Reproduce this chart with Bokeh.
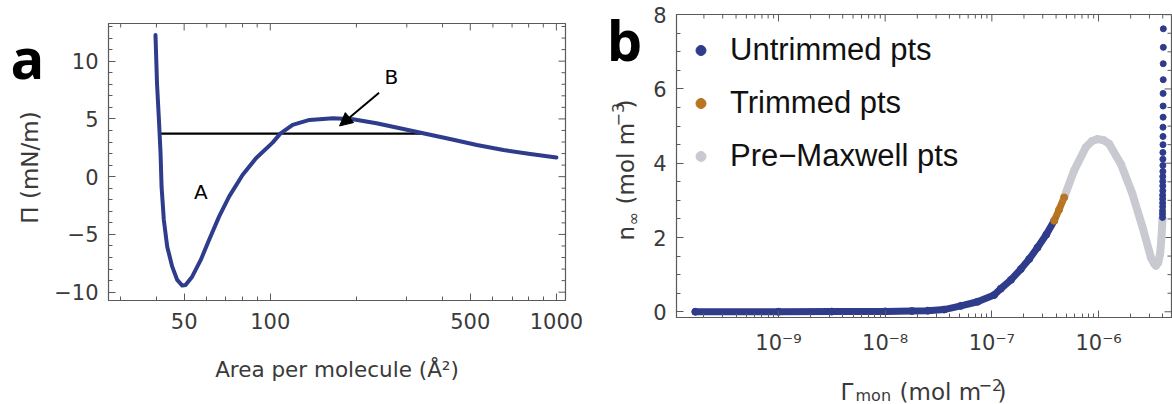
import math
from bokeh.plotting import figure
from bokeh.layouts import row, column
from bokeh.core.properties import value
from bokeh.models import (FixedTicker, Label, Arrow, NormalHead, Legend, LegendItem, Range1d,
                          CustomJSTickFormatter)
from bokeh.embed import file_html
from bokeh.resources import INLINE

# ---------------- Panel a data (surface pressure isotherm) ----------------
area = [39.7, 40.2, 40.8, 41.35, 41.69, 42.46, 43.63, 45.42, 47.29, 49.24, 50.58, 53.33,
        57.15, 61.09, 66.22, 71.78, 79.98, 89.13, 101.9, 108.4, 119.7, 137.1, 165.6, 194.5,
        235, 283.8, 342, 424.6, 527.2, 653.1, 810.8, 1000]
pressure = [12.27, 8.0, 5.0, 2.03, -0.87, -3.75, -6.06, -7.79, -8.94, -9.43, -9.38, -8.66,
            -7.21, -5.48, -3.46, -1.73, 0.15, 1.59, 2.95, 3.73, 4.48, 4.91, 5.05, 4.97,
            4.62, 4.19, 3.76, 3.26, 2.74, 2.31, 1.97, 1.66]
maxwell_area = [41.0, 347]
maxwell_pi = [3.73, 3.73]
a_xticks = [50, 100, 500, 1000]
a_xminor = [30, 40, 60, 70, 80, 90, 200, 300, 400, 600, 700, 800, 900]
a_yticks = [-10, -5, 0, 5, 10]
a_yminor = [-9, -8, -7, -6, -4, -3, -2, -1, 1, 2, 3, 4, 6, 7, 8, 9, 11, 12, 13]

# ---------------- Panel b data ----------------
untrimmed_g = [1.66e-10, 1.0e-9, 3.16e-9, 1.0e-8, 1.78e-8, 2.51e-8, 3.57e-8, 5.13e-8, 7.34e-8,
               1.05e-7, 1.21e-7, 1.51e-7, 1.87e-7, 2.24e-7, 2.68e-7, 3.24e-7, 3.84e-7]
untrimmed_n = [0.0, 0.0, 0.005, 0.01, 0.02, 0.03, 0.06, 0.16, 0.27,
               0.45, 0.62, 0.86, 1.15, 1.42, 1.73, 2.08, 2.45]
trimmed_g = [3.84e-7, 4.27e-7, 4.76e-7]
trimmed_n = [2.45, 2.75, 3.08]
premax_g = [4.76e-7, 5.90e-7, 7.60e-7, 8.71e-7, 9.79e-7, 1.12e-6, 1.26e-6, 1.62e-6, 2.08e-6,
            2.59e-6, 3.10e-6, 3.31e-6, 3.45e-6, 3.63e-6, 3.78e-6, 3.89e-6, 3.98e-6]
premax_n = [3.08, 3.80, 4.43, 4.60, 4.65, 4.62, 4.52, 3.98, 3.17,
            2.27, 1.46, 1.30, 1.24, 1.32, 1.56, 2.0, 2.5]
column_g = [4.05e-6, 4.05e-6, 4.04e-6, 4.04e-6, 4.03e-6, 4.03e-6, 4.03e-6, 4.02e-6, 4.02e-6,
            4.02e-6, 4.01e-6, 4.01e-6, 4.01e-6, 4.01e-6, 4.0e-6, 4.0e-6, 4.0e-6, 4.0e-6,
            3.99e-6, 3.99e-6, 3.99e-6, 3.99e-6, 3.98e-6, 3.98e-6, 3.98e-6]
column_n = [7.62, 7.12, 6.68, 6.25, 5.88, 5.54, 5.24, 4.97, 4.72, 4.50, 4.29, 4.11, 3.94,
            3.78, 3.64, 3.51, 3.39, 3.26, 3.14, 3.04, 2.93, 2.83, 2.72, 2.63, 2.54]
b_xticks = [1e-9, 1e-8, 1e-7, 1e-6]
b_xlabels = ["10\u207b\u2079", "10\u207b\u2078", "10\u207b\u2077", "10\u207b\u2076"]
b_xminor = [m * 10.0 ** e for e in range(-10, -5) for m in range(2, 10)]
b_yticks = [0, 2, 4, 6, 8]
b_yminor = [0.5, 1, 1.5, 2.5, 3, 3.5, 4.5, 5, 5.5, 6.5, 7, 7.5]

# texts placed in narrow strips around the panels
panel_a_letter = "a"
panel_b_letter = "b"
a_ylabel = "\u03a0 (mN/m)"
b_ylabel_parts = ["n", "\u221e", "(mol m", "\u22123", ")"]
b_xlabel_parts = ["\u0393", "mon", "(mol m", "\u22122", ")"]

BLUE = "#2f3c8c"
ORANGE = "#b87420"
GREY = "#c9cad1"
FRAME = "#5a5a5a"
TXT = "#3a3a3a"
FONT = "Open Sans"
AXFONT = "DejaVu Sans"
H = 404


def style_axis(ax):
    ax.axis_line_color = FRAME
    ax.major_tick_line_color = FRAME
    ax.minor_tick_line_color = FRAME
    ax.major_tick_in = 7
    ax.major_tick_out = 0
    ax.minor_tick_in = 4
    ax.minor_tick_out = 0
    ax.major_label_text_font = AXFONT
    ax.major_label_text_color = TXT
    ax.major_label_text_font_size = "21px"
    ax.axis_label_text_font = AXFONT
    ax.axis_label_text_color = TXT
    ax.axis_label_text_font_style = "normal"
    ax.axis_label_text_font_size = "21.5px"


def edge_ticks(p, xs, y, vertical, size):
    # tick marks on the top / right frame edges (half of the dash is clipped by the frame)
    if vertical:
        p.scatter(xs, [y] * len(xs), marker="dash", angle=math.pi / 2, size=size,
                  line_color=FRAME, line_width=1)
    else:
        p.scatter([y] * len(xs), xs, marker="dash", angle=0, size=size,
                  line_color=FRAME, line_width=1)


def strip(x0, x1, y0, y1):
    # a plain drawing area whose coordinates are page pixels (y grows downwards)
    s = figure(width=x1 - x0, height=y1 - y0, x_range=Range1d(x0, x1), y_range=Range1d(y1, y0),
               output_backend="svg", toolbar_location=None,
               x_axis_location=None, y_axis_location=None,
               min_border=0, min_border_left=0, min_border_right=0,
               min_border_top=0, min_border_bottom=0)
    s.xgrid.visible = False
    s.ygrid.visible = False
    s.outline_line_color = None
    s.frame_align = False
    return s


# ================= strip left of panel a =================
sa = strip(0, 50, 0, H)
sa.text(x=[27], y=[56.3], text=[panel_a_letter], text_align="center", text_baseline="middle",
        text_font=value(FONT), text_font_size=value("56px"), text_font_style="bold",
        text_color="black")
sa.text(x=[29], y=[167], text=[a_ylabel], angle=math.pi / 2, text_align="center",
        text_baseline="middle", text_font=value(AXFONT), text_font_size=value("23px"),
        text_color=TXT)

# ================= Panel a =================
XA0, XA1, YA0, YA1 = 27.2, 1076, -10.72, 13.26
p1 = figure(width=540, height=H, x_axis_type="log",
            x_range=Range1d(XA0, XA1), y_range=Range1d(YA0, YA1),
            output_backend="svg", toolbar_location=None,
            min_border_left=58, min_border_right=25, min_border_top=23, min_border_bottom=104)
p1.frame_align = False
p1.xgrid.visible = False
p1.ygrid.visible = False
p1.outline_line_color = FRAME
p1.outline_line_width = 1.2

p1.xaxis.ticker = FixedTicker(ticks=a_xticks, minor_ticks=a_xminor)
p1.yaxis.ticker = FixedTicker(ticks=a_yticks, minor_ticks=a_yminor)
p1.xaxis.formatter = CustomJSTickFormatter(code="return String(Math.round(tick));")
p1.yaxis.formatter = CustomJSTickFormatter(
    code="const v = Math.round(tick); return v < 0 ? '\u2212' + String(-v) : String(v);")
for ax in p1.xaxis + p1.yaxis:
    style_axis(ax)
p1.xaxis.axis_label = "Area per molecule (\u00c5\u00b2)"
p1.xaxis.major_label_standoff = 12
p1.xaxis.axis_label_standoff = 25
p1.yaxis.major_label_standoff = 10

edge_ticks(p1, a_xticks, YA1, True, 14)
edge_ticks(p1, a_xminor, YA1, True, 8)
edge_ticks(p1, a_yticks, XA1, False, 14)
edge_ticks(p1, a_yminor, XA1, False, 8)

p1.line(maxwell_area, maxwell_pi, line_color="black", line_width=2.2)
p1.line(area, pressure, line_color=BLUE, line_width=4, line_join="round", line_cap="round")
p1.add_layout(Arrow(end=NormalHead(size=13, fill_color="black", line_color="black"),
                    x_start=240, y_start=7.27, x_end=174.6, y_end=4.39,
                    line_color="black", line_width=2))
p1.add_layout(Label(x=265, y=8.6, text="B", text_align="center", text_baseline="middle",
                    text_font=AXFONT, text_font_size="20px", text_color="black"))
p1.add_layout(Label(x=57.2, y=-1.3, text="A", text_align="center", text_baseline="middle",
                    text_font=AXFONT, text_font_size="20px", text_color="black"))

# ================= strip left of panel b =================
sb = strip(590, 646, 0, H)
sb.text(x=[624], y=[38.3], text=[panel_b_letter], text_align="center", text_baseline="middle",
        text_font=value(FONT), text_font_size=value("56px"), text_font_style="bold",
        text_color="black")
# composite rotated label n_inf (mol m^-3), reading bottom to top
sb.text(x=[625, 632.5, 625, 617.5, 625], y=[240, 225, 204, 126, 108], text=b_ylabel_parts,
        angle=math.pi / 2, text_align="left", text_baseline="middle",
        text_font=value(AXFONT), text_font_size=["23px", "16px", "23px", "16px", "23px"],
        text_color=TXT)

# ================= Panel b =================
XB0, XB1, YB0, YB1 = 10 ** -9.956, 10 ** -5.316, -0.154, 8.005
p2 = figure(width=526, height=372, x_axis_type="log",
            x_range=Range1d(XB0, XB1), y_range=Range1d(YB0, YB1),
            output_backend="svg", toolbar_location=None,
            min_border_left=30, min_border_right=1, min_border_top=14, min_border_bottom=55)
p2.frame_align = False
p2.xgrid.visible = False
p2.ygrid.visible = False
p2.outline_line_color = FRAME
p2.outline_line_width = 1.2
p2.xaxis.ticker = FixedTicker(ticks=b_xticks, minor_ticks=b_xminor)
p2.yaxis.ticker = FixedTicker(ticks=b_yticks, minor_ticks=b_yminor)
p2.xaxis.formatter = CustomJSTickFormatter(
    args=dict(tk=b_xticks, lb=b_xlabels),
    code="""
const e = Math.log10(tick);
for (let i = 0; i < tk.length; i++) {
  if (Math.abs(Math.log10(tk[i]) - e) < 1e-6) { return lb[i]; }
}
return '';
""")
p2.yaxis.formatter = CustomJSTickFormatter(code="return String(Math.round(tick));")
for ax in p2.xaxis + p2.yaxis:
    style_axis(ax)
p2.xaxis.major_label_standoff = 13
p2.yaxis.major_label_standoff = 10

edge_ticks(p2, b_xticks, YB1, True, 14)
edge_ticks(p2, b_xminor, YB1, True, 8)
edge_ticks(p2, b_yticks, XB1, False, 14)
edge_ticks(p2, b_yminor, XB1, False, 8)

p2.line(premax_g, premax_n, line_color=GREY, line_width=8, line_join="round", line_cap="round")
p2.line(untrimmed_g, untrimmed_n, line_color=BLUE, line_width=7, line_join="round", line_cap="round")
p2.line(trimmed_g, trimmed_n, line_color=ORANGE, line_width=7, line_join="round", line_cap="butt")
r_pre = p2.scatter(premax_g, premax_n, size=7, color=GREY)
r_un = p2.scatter(untrimmed_g, untrimmed_n, size=7, color=BLUE)
r_tr = p2.scatter(trimmed_g, trimmed_n, size=7, color=ORANGE)
r_col = p2.scatter(column_g, column_n, size=6, color=BLUE)

legend = Legend(items=[LegendItem(label="Untrimmed pts", renderers=[r_un]),
                       LegendItem(label="Trimmed pts", renderers=[r_tr]),
                       LegendItem(label="Pre\u2212Maxwell pts", renderers=[r_pre])],
                location="top_left", margin=12, padding=0, spacing=5,
                glyph_width=25, glyph_height=48, label_height=48, label_standoff=17,
                label_text_font="Liberation Sans", label_text_font_size="31px",
                label_text_color="#111111",
                background_fill_alpha=0, border_line_color=None)
p2.add_layout(legend)

# ================= strip below panel b: x-axis title =================
sbx = strip(646, 1172, 372, H)
sbx.text(x=[840, 855, 899, 978, 997], y=[391.5, 394.5, 391.5, 384, 391.5], text=b_xlabel_parts,
         text_align="left", text_baseline="middle",
         text_font=value(AXFONT), text_font_size=["23px", "16px", "23px", "16px", "23px"],
         text_color=TXT)

layout = row(sa, p1, sb, column(p2, sbx, spacing=0), spacing=0)
open("out.html", "w").write(file_html(layout, INLINE))
